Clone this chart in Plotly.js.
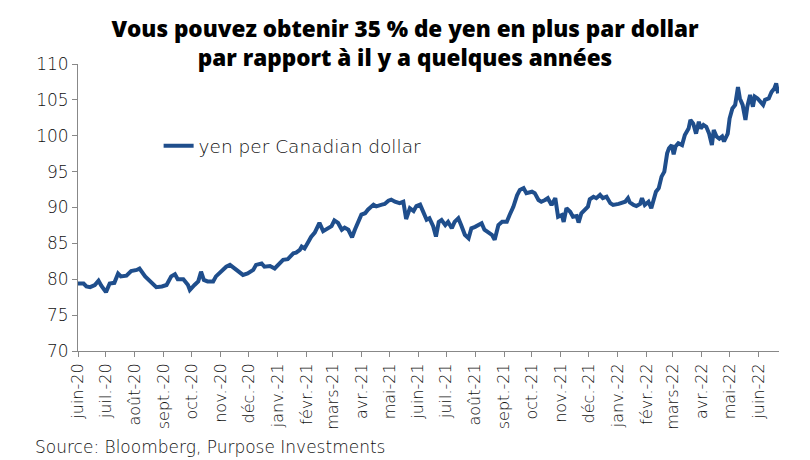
<!DOCTYPE html>
<html>
<head>
<meta charset="utf-8">
<script src="https://cdn.plot.ly/plotly-3.0.1.min.js"></script>
<style>html,body{margin:0;padding:0;background:#fff;}#chart{width:810px;height:460px;}</style>
</head>
<body>
<div id="chart"></div>
<script>
const dates = [
"2020-06-01","2020-06-07","2020-06-10","2020-06-14","2020-06-19","2020-06-23","2020-06-26","2020-07-01","2020-07-05","2020-07-10",
"2020-07-14","2020-07-17","2020-07-23","2020-07-28","2020-08-03","2020-08-06","2020-08-12","2020-08-17","2020-08-24","2020-08-30",
"2020-09-04","2020-09-09","2020-09-13","2020-09-16","2020-09-22","2020-09-27","2020-09-29","2020-10-04","2020-10-08","2020-10-11",
"2020-10-14","2020-10-18","2020-10-24","2020-10-27","2020-11-02","2020-11-07","2020-11-11","2020-11-16","2020-11-20","2020-11-25",
"2020-11-30","2020-12-06","2020-12-09","2020-12-15","2020-12-18","2020-12-24","2020-12-29","2021-01-03","2021-01-07","2021-01-12",
"2021-01-18","2021-01-21","2021-01-25","2021-01-27","2021-01-30","2021-02-03","2021-02-06","2021-02-10","2021-02-15","2021-02-19",
"2021-02-24","2021-02-28","2021-03-03","2021-03-07","2021-03-11","2021-03-14","2021-03-18","2021-03-22","2021-03-25","2021-03-29",
"2021-04-01","2021-04-05","2021-04-08","2021-04-14","2021-04-17","2021-04-23","2021-04-26","2021-04-30","2021-05-03","2021-05-07",
"2021-05-12","2021-05-16","2021-05-19","2021-05-23","2021-05-27","2021-05-30","2021-06-03","2021-06-06","2021-06-10","2021-06-13",
"2021-06-17","2021-06-20","2021-06-23","2021-06-26","2021-06-30","2021-07-03","2021-07-07","2021-07-10","2021-07-14","2021-07-17",
"2021-07-21","2021-07-25","2021-07-28","2021-08-01","2021-08-04","2021-08-08","2021-08-11","2021-08-15","2021-08-19","2021-08-22",
"2021-08-26","2021-08-30","2021-09-04","2021-09-07","2021-09-11","2021-09-15","2021-09-18","2021-09-22","2021-09-25","2021-10-01",
"2021-10-04","2021-10-08","2021-10-11","2021-10-15","2021-10-18","2021-10-22","2021-10-26","2021-10-29","2021-11-02","2021-11-04",
"2021-11-07","2021-11-11","2021-11-14","2021-11-18","2021-11-20","2021-11-23","2021-11-27","2021-11-30","2021-12-02","2021-12-06",
"2021-12-09","2021-12-13","2021-12-16","2021-12-20","2021-12-24","2021-12-27","2022-01-02","2022-01-05","2022-01-09","2022-01-12",
"2022-01-14","2022-01-18","2022-01-21","2022-01-25","2022-01-27","2022-01-30","2022-02-03","2022-02-06","2022-02-09","2022-02-11",
"2022-02-14","2022-02-17","2022-02-20","2022-02-23","2022-02-25","2022-02-28","2022-03-02","2022-03-04","2022-03-07","2022-03-11",
"2022-03-14","2022-03-18","2022-03-20","2022-03-23","2022-03-26","2022-03-29","2022-03-31","2022-04-03","2022-04-06","2022-04-09",
"2022-04-12","2022-04-14","2022-04-17","2022-04-20","2022-04-23","2022-04-25","2022-04-29","2022-05-01","2022-05-04","2022-05-07",
"2022-05-10","2022-05-12","2022-05-15","2022-05-18","2022-05-20","2022-05-23","2022-05-26","2022-05-28","2022-05-31","2022-06-03",
"2022-06-06","2022-06-08","2022-06-12","2022-06-15","2022-06-18","2022-06-20","2022-06-22"
];
const yenPerCad = [
79.4,79.4,79.0,78.9,79.2,79.8,79.1,78.2,79.4,79.5,
80.8,80.4,80.5,81.15,81.3,81.5,80.4,79.7,78.9,79.0,
79.2,80.4,80.7,80.0,80.0,79.2,78.5,79.2,79.7,81.05,
79.9,79.7,79.7,80.4,81.05,81.75,82.0,81.5,81.05,80.6,
80.8,81.3,82.0,82.2,81.75,81.85,81.5,82.2,82.7,82.8,
83.6,83.7,84.1,84.55,84.3,85.2,85.9,86.5,87.85,86.7,
87.1,87.4,88.2,87.85,86.9,87.2,86.9,85.85,86.9,88.3,
89.0,89.2,89.7,90.4,90.15,90.4,90.5,90.95,91.1,90.8,
90.6,90.8,88.4,89.9,89.5,90.2,90.4,89.5,88.3,88.5,
87.4,85.95,88.0,88.25,87.55,88.0,87.1,88.0,88.5,87.55,
86.2,85.7,87.1,87.3,87.55,87.8,86.9,86.6,86.2,85.5,
87.55,88.0,88.0,88.95,90.1,91.7,92.45,92.7,92.0,92.2,
92.0,91.05,90.8,91.05,91.3,90.35,91.3,88.7,88.95,88.0,
89.9,89.4,88.7,88.8,87.9,89.2,89.65,90.1,91.15,91.5,
91.3,91.75,91.3,91.5,90.6,90.35,90.5,90.6,90.8,91.3,
90.7,90.35,90.2,90.5,91.3,90.35,90.8,89.9,91.3,92.2,
92.7,94.3,95.0,97.55,98.25,98.7,97.4,98.5,98.95,98.7,
100.1,101.0,102.2,101.7,100.3,101.95,101.0,101.5,101.25,100.3,
98.7,100.8,99.9,99.6,99.9,99.2,100.3,102.4,103.8,104.3,
106.8,105.2,104.3,102.2,104.05,105.7,104.05,105.45,105.2,104.75,
104.3,105.0,105.2,106.1,106.6,107.3,105.9
];
const seriesName = "yen per Canadian dollar";
const tickDates = ["2020-06-01","2020-07-01","2020-08-01","2020-09-01","2020-10-01","2020-11-01","2020-12-01",
"2021-01-01","2021-02-01","2021-03-01","2021-04-01","2021-05-01","2021-06-01","2021-07-01","2021-08-01",
"2021-09-01","2021-10-01","2021-11-01","2021-12-01","2022-01-01","2022-02-01","2022-03-01","2022-04-01",
"2022-05-01","2022-06-01"];
const tickLabels = ["juin-20","juil.-20","août-20","sept.-20","oct.-20","nov.-20","déc.-20",
"janv.-21","févr.-21","mars-21","avr.-21","mai-21","juin-21","juil.-21","août-21",
"sept.-21","oct.-21","nov.-21","déc.-21","janv.-22","févr.-22","mars-22","avr.-22",
"mai-22","juin-22"];
const yTicks = [70,75,80,85,90,95,100,105,110];
const titleText = "Vous pouvez obtenir 35 % de yen en plus par dollar<br>par rapport à il y a quelques années";
const sourceText = "Source: Bloomberg, Purpose Investments";

const textFont = "DejaVu Sans, Open Sans, sans-serif";
const textColor = "#111111";
const trace = {
  x: dates, y: yenPerCad, type: "scatter", mode: "lines", name: seriesName,
  line: {color: "#1f4e8c", width: 4}
};
const layout = {
  width: 810, height: 460,
  margin: {l: 78, r: 31, t: 64, b: 109},
  paper_bgcolor: "#ffffff", plot_bgcolor: "#ffffff",
  font: {family: textFont, color: textColor, weight: 200},
  title: {text: titleText, x: 0.5, xanchor: "center", y: 0.92, yanchor: "top",
    font: {family: "Open Sans, sans-serif", size: 22.5, color: "#000000", weight: 800}},
  showlegend: true,
  legend: {x: 0.115, y: 0.78, xanchor: "left", yanchor: "top", bgcolor: "rgba(0,0,0,0)",
    font: {size: 18.5, color: textColor, family: textFont, weight: 200}},
  xaxis: {type: "date", range: ["2020-06-01", "2022-06-23"], tickmode: "array",
    tickvals: tickDates, ticktext: tickLabels, tickangle: -90,
    ticks: "outside", ticklen: 5, tickcolor: "#888888", showline: true, linecolor: "#888888",
    linewidth: 1, showgrid: false, zeroline: false,
    tickfont: {size: 16, color: textColor, family: textFont, weight: 200}},
  yaxis: {range: [70, 110], tickmode: "array", tickvals: yTicks, ticks: "outside", ticklen: 5,
    tickcolor: "#888888", showline: true, linecolor: "#888888", linewidth: 1,
    showgrid: false, zeroline: false,
    tickfont: {size: 17, color: textColor, family: textFont, weight: 200}},
  annotations: [{text: sourceText, xref: "paper", yref: "paper", x: -0.064, y: -0.335,
    xanchor: "left", yanchor: "middle", showarrow: false,
    font: {size: 17, color: textColor, family: textFont, weight: 200}}]
};
Plotly.newPlot("chart", [trace], layout, {displayModeBar: false, staticPlot: true});
</script>
</body>
</html>
